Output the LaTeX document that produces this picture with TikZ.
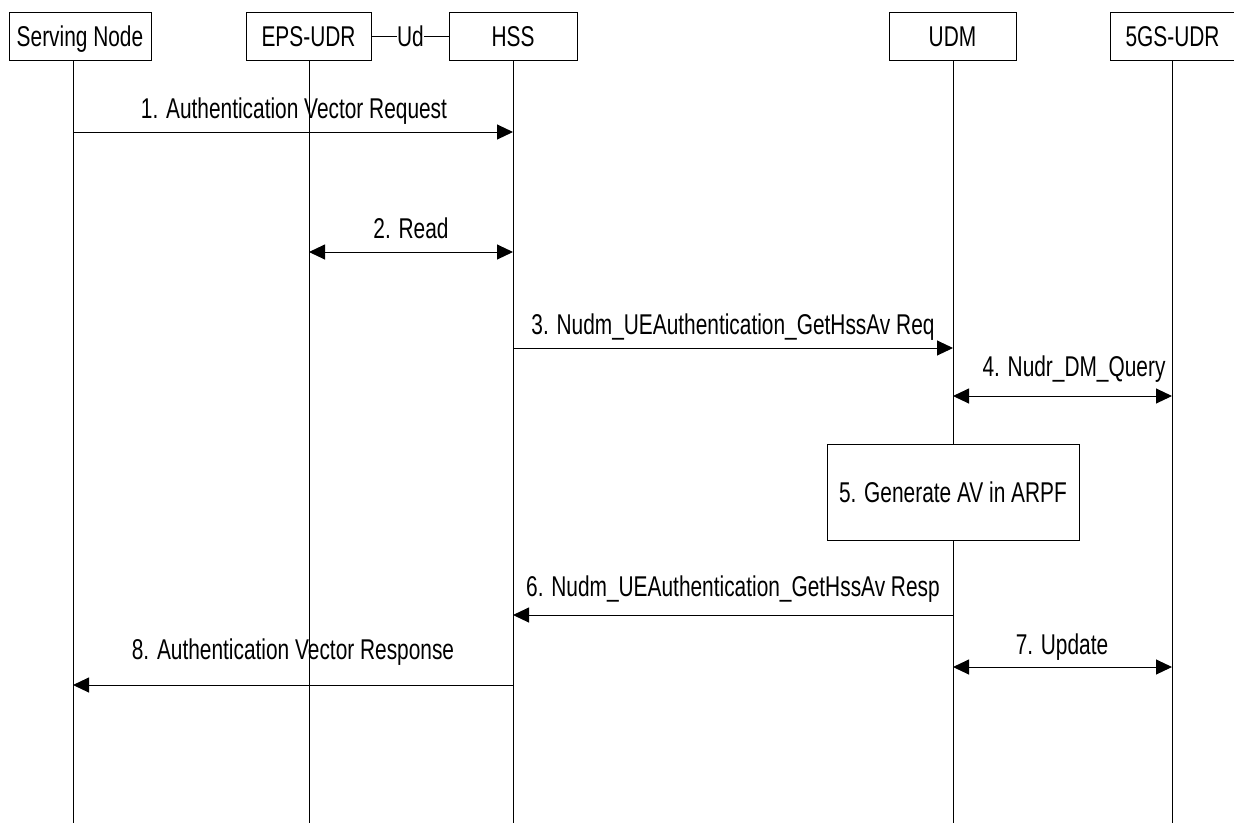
\documentclass[tikz,border=0pt]{standalone}
\usepackage{fontspec}
\setmainfont{Liberation Sans}[FakeStretch=0.73]
\usetikzlibrary{arrows.meta}
\begin{document}
\begin{tikzpicture}[x=1pt,y=-1pt,
  every node/.style={font=\fontsize{28.6}{33}\selectfont, inner sep=0pt},
  entity/.style={draw, line width=1pt, minimum height=48pt, text height=20.5pt, text depth=0pt},
  life/.style={line width=1pt},
  msg/.style={line width=1pt, -{Triangle[length=16pt,width=15pt]}},
  bimsg/.style={line width=1pt, {Triangle[length=16pt,width=15pt]}-{Triangle[length=16pt,width=15pt]}},
  lbl/.style={anchor=base},
  procbox/.style={draw, fill=white, line width=1pt, minimum width=252pt, minimum height=96pt, text height=20.5pt, text depth=0pt}]
\useasboundingbox (0,0) rectangle (1234,823);
\fill[white] (0,0) rectangle (1234,823);

% entities
\node[entity, minimum width=142pt] (sn) at (80,36) {Serving Node};
\node[entity, minimum width=125pt] (eps) at (308.5,36) {EPS-UDR};
\node[entity, minimum width=128pt] (hss) at (513,36) {HSS};
\node[entity, minimum width=127pt] (udm) at (952.5,36) {UDM};
\node[entity, minimum width=125pt] (gs) at (1172.5,36) {5GS-UDR};
\node[text height=20.5pt, text depth=0pt] (ud) at (410.5,36) {Ud};
\draw[life] (eps.east) -- (ud.west);
\draw[life] (ud.east) -- (hss.west);

% lifelines
\coordinate (snT) at (73,60);   \coordinate (snB) at (73,823);
\coordinate (epsT) at (309,60); \coordinate (epsB) at (309,823);
\coordinate (hssT) at (513,60); \coordinate (hssB) at (513,823);
\coordinate (udmT) at (953,60); \coordinate (udmB) at (953,823);
\coordinate (gsT) at (1172,60); \coordinate (gsB) at (1172,823);
\draw[life] (snT) -- (snB);
\draw[life] (epsT) -- (epsB);
\draw[life] (hssT) -- (hssB);
\draw[life] (udmT) -- (udmB);
\draw[life] (gsT) -- (gsB);

% message end points
\coordinate (m1a) at (73,132);  \coordinate (m1b) at (513,132);
\coordinate (m2a) at (309,252); \coordinate (m2b) at (513,252);
\coordinate (m3a) at (513,348); \coordinate (m3b) at (953,348);
\coordinate (m4a) at (953,396); \coordinate (m4b) at (1172,396);
\coordinate (m6a) at (953,615); \coordinate (m6b) at (513,615);
\coordinate (m7a) at (953,667); \coordinate (m7b) at (1172,667);
\coordinate (m8a) at (513,685); \coordinate (m8b) at (73,685);

\draw[msg] (m1a) -- (m1b);
\node[lbl] (l1) at (294,118) {1. Authentication Vector Request};
\draw[bimsg] (m2a) -- (m2b);
\node[lbl] (l2) at (411,238) {2. Read};
\draw[msg] (m3a) -- (m3b);
\node[lbl] (l3) at (733,334) {3. Nudm\_UEAuthentication\_GetHssAv Req};
\draw[bimsg] (m4a) -- (m4b);
\node[lbl] (l4) at (1074,376) {4. Nudr\_DM\_Query};
\node[procbox] (p5) at (953,492) {5. Generate AV in ARPF};
\draw[msg] (m6a) -- (m6b);
\node[lbl] (l6) at (733,596) {6. Nudm\_UEAuthentication\_GetHssAv Resp};
\draw[bimsg] (m7a) -- (m7b);
\node[lbl] (l7) at (1062,654) {7. Update};
\draw[msg] (m8a) -- (m8b);
\node[lbl] (l8) at (293,659) {8. Authentication Vector Response};
\end{tikzpicture}
\end{document}
